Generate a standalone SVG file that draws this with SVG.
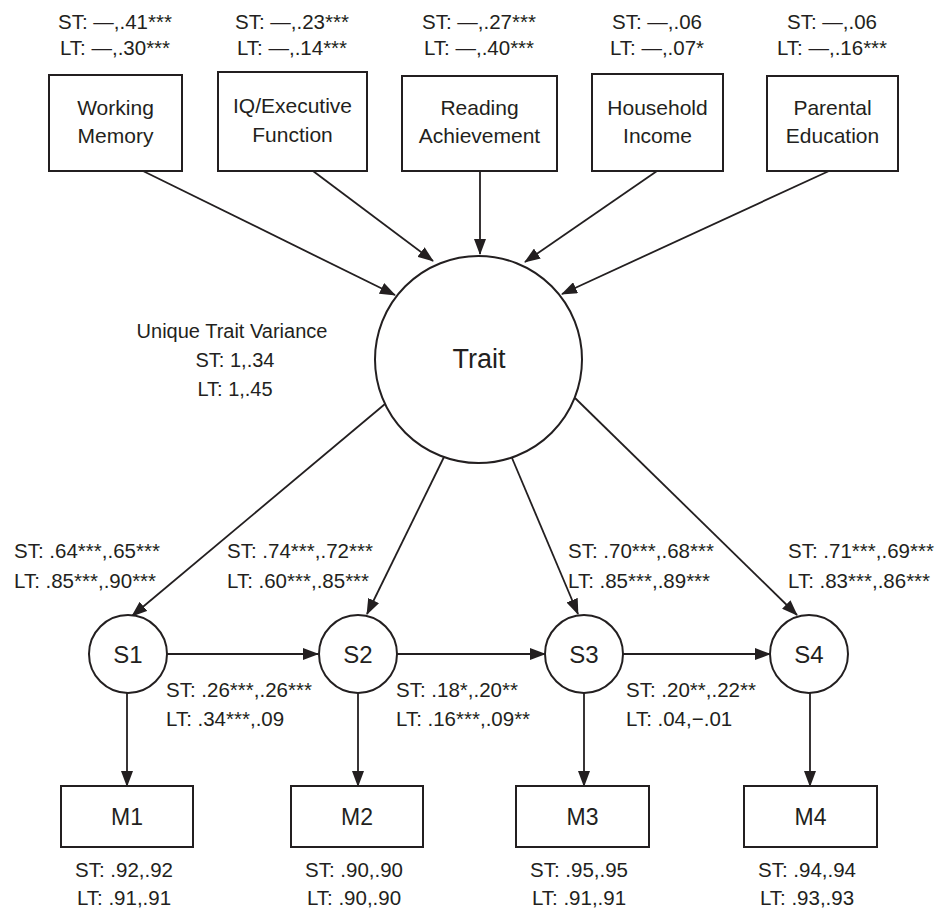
<svg xmlns="http://www.w3.org/2000/svg" width="937" height="910" viewBox="0 0 937 910">
<style>
text{font-family:"Liberation Sans",Arial,sans-serif;fill:#231f20}
.lbl{font-size:20.5px}
.bx{font-size:21px;text-anchor:middle}
.mid{text-anchor:middle}
.node{fill:#fff;stroke:#231f20;stroke-width:2}
.conn line{stroke:#231f20;stroke-width:1.8;marker-end:url(#ah)}
</style>
<defs>
<marker id="ah" markerUnits="userSpaceOnUse" markerWidth="16" markerHeight="12" viewBox="0 0 16 12" refX="15" refY="6" orient="auto">
<path d="M0,0 L16,6 L0,12 z" fill="#231f20"/>
</marker>
</defs>

<g id="connectors" class="conn">
<line x1="143" y1="171" x2="395" y2="295"/>
<line x1="313" y1="171" x2="433" y2="261"/>
<line x1="480" y1="171" x2="480" y2="254"/>
<line x1="657" y1="171" x2="525" y2="262"/>
<line x1="829" y1="171" x2="562" y2="294"/>
<line x1="385" y1="404" x2="132" y2="616"/>
<line x1="444" y1="457" x2="367" y2="614"/>
<line x1="512" y1="458" x2="578" y2="614"/>
<line x1="575" y1="398" x2="797" y2="615"/>
<line x1="167" y1="654" x2="318" y2="654"/>
<line x1="397" y1="654" x2="545" y2="654"/>
<line x1="623" y1="654" x2="770" y2="654"/>
<line x1="127" y1="693" x2="127" y2="786"/>
<line x1="358" y1="693" x2="358" y2="786"/>
<line x1="584" y1="693" x2="584" y2="786"/>
<line x1="810" y1="693" x2="810" y2="786"/>
</g>

<g id="working-memory">
<text class="lbl mid" x="115" y="29">ST: —,.41***</text>
<text class="lbl mid" x="115" y="55">LT: —,.30***</text>
<rect class="node" x="49" y="75" width="133" height="96"/>
<text class="bx" x="115.5" y="115">Working</text>
<text class="bx" x="115.5" y="143">Memory</text>
</g>
<g id="iq-executive">
<text class="lbl mid" x="292" y="29">ST: —,.23***</text>
<text class="lbl mid" x="292" y="55">LT: —,.14***</text>
<rect class="node" x="218" y="72" width="149" height="99"/>
<text class="bx" x="292.5" y="113">IQ/Executive</text>
<text class="bx" x="292.5" y="142">Function</text>
</g>
<g id="reading">
<text class="lbl mid" x="479" y="29">ST: —,.27***</text>
<text class="lbl mid" x="479" y="55">LT: —,.40***</text>
<rect class="node" x="402" y="76" width="155" height="95"/>
<text class="bx" x="479.5" y="115">Reading</text>
<text class="bx" x="479.5" y="143">Achievement</text>
</g>
<g id="household">
<text class="lbl mid" x="657" y="29">ST: —,.06</text>
<text class="lbl mid" x="657" y="55">LT: —,.07*</text>
<rect class="node" x="592" y="74" width="131" height="97"/>
<text class="bx" x="657.5" y="115">Household</text>
<text class="bx" x="657.5" y="143">Income</text>
</g>
<g id="parental">
<text class="lbl mid" x="832" y="29">ST: —,.06</text>
<text class="lbl mid" x="832" y="55">LT: —,.16***</text>
<rect class="node" x="767" y="76" width="131" height="95"/>
<text class="bx" x="832.5" y="115">Parental</text>
<text class="bx" x="832.5" y="143">Education</text>
</g>

<g id="trait">
<circle class="node" cx="478.5" cy="359.5" r="103.5"/>
<text class="mid" x="479" y="368" style="font-size:27px">Trait</text>
</g>
<g id="unique-variance">
<text class="mid" x="232" y="338" style="font-size:20px">Unique Trait Variance</text>
<text class="mid" x="235" y="367" style="font-size:20px">ST: 1,.34</text>
<text class="mid" x="235" y="396" style="font-size:20px">LT: 1,.45</text>
</g>

<g id="s1">
<circle class="node" cx="128" cy="654" r="39"/>
<text class="mid" x="128" y="663" style="font-size:24px">S1</text>
</g>
<g id="s2">
<circle class="node" cx="358" cy="654" r="39"/>
<text class="mid" x="358" y="663" style="font-size:24px">S2</text>
</g>
<g id="s3">
<circle class="node" cx="584" cy="654" r="39"/>
<text class="mid" x="584" y="663" style="font-size:24px">S3</text>
</g>
<g id="s4">
<circle class="node" cx="809" cy="654" r="39"/>
<text class="mid" x="809" y="663" style="font-size:24px">S4</text>
</g>

<g id="loading-labels">
<text class="lbl" x="14" y="558">ST: .64***,.65***</text>
<text class="lbl" x="14" y="588">LT: .85***,.90***</text>
<text class="lbl" x="227" y="558">ST: .74***,.72***</text>
<text class="lbl" x="227" y="588">LT: .60***,.85***</text>
<text class="lbl" x="568" y="558">ST: .70***,.68***</text>
<text class="lbl" x="568" y="588">LT: .85***,.89***</text>
<text class="lbl" x="788" y="558">ST: .71***,.69***</text>
<text class="lbl" x="788" y="588">LT: .83***,.86***</text>
</g>
<g id="stability-labels">
<text class="lbl" x="166" y="697">ST: .26***,.26***</text>
<text class="lbl" x="166" y="726">LT: .34***,.09</text>
<text class="lbl" x="396" y="697">ST: .18*,.20**</text>
<text class="lbl" x="396" y="726">LT: .16***,.09**</text>
<text class="lbl" x="626" y="697">ST: .20**,.22**</text>
<text class="lbl" x="626" y="726">LT: .04,−.01</text>
</g>

<g id="m1">
<rect class="node" x="61" y="786" width="132" height="61"/>
<text class="mid" x="127" y="825" style="font-size:23px">M1</text>
<text class="lbl mid" x="124" y="877">ST: .92,.92</text>
<text class="lbl mid" x="124" y="905">LT: .91,.91</text>
</g>
<g id="m2">
<rect class="node" x="291" y="786" width="132" height="61"/>
<text class="mid" x="357" y="825" style="font-size:23px">M2</text>
<text class="lbl mid" x="354" y="877">ST: .90,.90</text>
<text class="lbl mid" x="354" y="905">LT: .90,.90</text>
</g>
<g id="m3">
<rect class="node" x="516" y="786" width="133" height="61"/>
<text class="mid" x="582.5" y="825" style="font-size:23px">M3</text>
<text class="lbl mid" x="579" y="877">ST: .95,.95</text>
<text class="lbl mid" x="579" y="905">LT: .91,.91</text>
</g>
<g id="m4">
<rect class="node" x="744" y="786" width="133" height="61"/>
<text class="mid" x="810.5" y="825" style="font-size:23px">M4</text>
<text class="lbl mid" x="807" y="877">ST: .94,.94</text>
<text class="lbl mid" x="807" y="905">LT: .93,.93</text>
</g>
</svg>
